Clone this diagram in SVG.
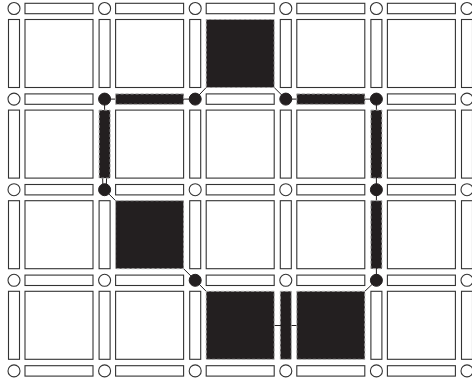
<svg xmlns="http://www.w3.org/2000/svg" width="472" height="382" viewBox="0 0 472 382">
<style>
.o{fill:#fff;stroke:#333;stroke-width:1.1}
.f{fill:#231f20;stroke:#a8a8a8;stroke-width:1;stroke-dasharray:3 2}
.fc{fill:#231f20;stroke:#231f20;stroke-width:1}
.c{stroke:#231f20;stroke-width:1;fill:none}
</style>
<rect width="472" height="382" fill="#fff"/>
<g id="connectors">
<line class="c" x1="206.2" y1="87.5" x2="195.2" y2="99.1"/>
<line class="c" x1="104.6" y1="99.1" x2="195.2" y2="99.1"/>
<line class="c" x1="104.6" y1="99.1" x2="104.6" y2="112"/>
<line class="c" x1="102.6" y1="177" x2="103" y2="189.7"/>
<line class="c" x1="106.6" y1="177" x2="106.2" y2="189.7"/>
<line class="c" x1="104.6" y1="189.7" x2="115.6" y2="200.7"/>
<line class="c" x1="183.6" y1="268.7" x2="195.2" y2="280.3"/>
<line class="c" x1="195.2" y1="280.3" x2="206.2" y2="291.3"/>
<line class="c" x1="274.2" y1="325.5" x2="296.8" y2="325.5"/>
<line class="c" x1="364.8" y1="291.3" x2="376.4" y2="280.3"/>
<line class="c" x1="376.4" y1="99.1" x2="376.4" y2="280.3"/>
<line class="c" x1="285.8" y1="99.1" x2="376.4" y2="99.1"/>
<line class="c" x1="285.8" y1="99.1" x2="274.2" y2="87.5"/>
</g>
<g id="squares">
<g id="sq-0-0"><rect class="o" x="25" y="19.5" width="68" height="68"/></g>
<g id="sq-1-0"><rect class="o" x="115.6" y="19.5" width="68" height="68"/></g>
<g id="sq-2-0"><rect class="f" x="206.2" y="19.5" width="68" height="68"/></g>
<g id="sq-3-0"><rect class="o" x="296.8" y="19.5" width="68" height="68"/></g>
<g id="sq-4-0"><rect class="o" x="387.4" y="19.5" width="68" height="68"/></g>
<g id="sq-0-1"><rect class="o" x="25" y="110.1" width="68" height="68"/></g>
<g id="sq-1-1"><rect class="o" x="115.6" y="110.1" width="68" height="68"/></g>
<g id="sq-2-1"><rect class="o" x="206.2" y="110.1" width="68" height="68"/></g>
<g id="sq-3-1"><rect class="o" x="296.8" y="110.1" width="68" height="68"/></g>
<g id="sq-4-1"><rect class="o" x="387.4" y="110.1" width="68" height="68"/></g>
<g id="sq-0-2"><rect class="o" x="25" y="200.7" width="68" height="68"/></g>
<g id="sq-1-2"><rect class="f" x="115.6" y="200.7" width="68" height="68"/></g>
<g id="sq-2-2"><rect class="o" x="206.2" y="200.7" width="68" height="68"/></g>
<g id="sq-3-2"><rect class="o" x="296.8" y="200.7" width="68" height="68"/></g>
<g id="sq-4-2"><rect class="o" x="387.4" y="200.7" width="68" height="68"/></g>
<g id="sq-0-3"><rect class="o" x="25" y="291.3" width="68" height="68"/></g>
<g id="sq-1-3"><rect class="o" x="115.6" y="291.3" width="68" height="68"/></g>
<g id="sq-2-3"><rect class="f" x="206.2" y="291.3" width="68" height="68"/></g>
<g id="sq-3-3"><rect class="f" x="296.8" y="291.3" width="68" height="68"/></g>
<g id="sq-4-3"><rect class="o" x="387.4" y="291.3" width="68" height="68"/></g>
</g>
<g id="vbars">
<g id="v-0-0"><rect class="o" x="8.5" y="19.5" width="11" height="68"/></g>
<g id="v-1-0"><rect class="o" x="99.1" y="19.5" width="11" height="68"/></g>
<g id="v-2-0"><rect class="o" x="189.7" y="19.5" width="11" height="68"/></g>
<g id="v-3-0"><rect class="o" x="280.3" y="19.5" width="11" height="68"/></g>
<g id="v-4-0"><rect class="o" x="370.9" y="19.5" width="11" height="68"/></g>
<g id="v-5-0"><rect class="o" x="461.5" y="19.5" width="11" height="68"/></g>
<g id="v-0-1"><rect class="o" x="8.5" y="110.1" width="11" height="68"/></g>
<g id="v-1-1"><rect class="f" x="99.1" y="110.1" width="11" height="68"/></g>
<g id="v-2-1"><rect class="o" x="189.7" y="110.1" width="11" height="68"/></g>
<g id="v-3-1"><rect class="o" x="280.3" y="110.1" width="11" height="68"/></g>
<g id="v-4-1"><rect class="f" x="370.9" y="110.1" width="11" height="68"/></g>
<g id="v-5-1"><rect class="o" x="461.5" y="110.1" width="11" height="68"/></g>
<g id="v-0-2"><rect class="o" x="8.5" y="200.7" width="11" height="68"/></g>
<g id="v-1-2"><rect class="o" x="99.1" y="200.7" width="11" height="68"/></g>
<g id="v-2-2"><rect class="o" x="189.7" y="200.7" width="11" height="68"/></g>
<g id="v-3-2"><rect class="o" x="280.3" y="200.7" width="11" height="68"/></g>
<g id="v-4-2"><rect class="f" x="370.9" y="200.7" width="11" height="68"/></g>
<g id="v-5-2"><rect class="o" x="461.5" y="200.7" width="11" height="68"/></g>
<g id="v-0-3"><rect class="o" x="8.5" y="291.3" width="11" height="68"/></g>
<g id="v-1-3"><rect class="o" x="99.1" y="291.3" width="11" height="68"/></g>
<g id="v-2-3"><rect class="o" x="189.7" y="291.3" width="11" height="68"/></g>
<g id="v-3-3"><rect class="f" x="280.3" y="291.3" width="11" height="68"/></g>
<g id="v-4-3"><rect class="o" x="370.9" y="291.3" width="11" height="68"/></g>
<g id="v-5-3"><rect class="o" x="461.5" y="291.3" width="11" height="68"/></g>
</g>
<g id="hbars">
<g id="h-0-0"><rect class="o" x="25" y="3.3" width="68" height="10.4"/></g>
<g id="h-1-0"><rect class="o" x="115.6" y="3.3" width="68" height="10.4"/></g>
<g id="h-2-0"><rect class="o" x="206.2" y="3.3" width="68" height="10.4"/></g>
<g id="h-3-0"><rect class="o" x="296.8" y="3.3" width="68" height="10.4"/></g>
<g id="h-4-0"><rect class="o" x="387.4" y="3.3" width="68" height="10.4"/></g>
<g id="h-0-1"><rect class="o" x="25" y="93.9" width="68" height="10.4"/></g>
<g id="h-1-1"><rect class="f" x="115.6" y="93.9" width="68" height="10.4"/></g>
<g id="h-2-1"><rect class="o" x="206.2" y="93.9" width="68" height="10.4"/></g>
<g id="h-3-1"><rect class="f" x="296.8" y="93.9" width="68" height="10.4"/></g>
<g id="h-4-1"><rect class="o" x="387.4" y="93.9" width="68" height="10.4"/></g>
<g id="h-0-2"><rect class="o" x="25" y="184.5" width="68" height="10.4"/></g>
<g id="h-1-2"><rect class="o" x="115.6" y="184.5" width="68" height="10.4"/></g>
<g id="h-2-2"><rect class="o" x="206.2" y="184.5" width="68" height="10.4"/></g>
<g id="h-3-2"><rect class="o" x="296.8" y="184.5" width="68" height="10.4"/></g>
<g id="h-4-2"><rect class="o" x="387.4" y="184.5" width="68" height="10.4"/></g>
<g id="h-0-3"><rect class="o" x="25" y="275.1" width="68" height="10.4"/></g>
<g id="h-1-3"><rect class="o" x="115.6" y="275.1" width="68" height="10.4"/></g>
<g id="h-2-3"><rect class="o" x="206.2" y="275.1" width="68" height="10.4"/></g>
<g id="h-3-3"><rect class="o" x="296.8" y="275.1" width="68" height="10.4"/></g>
<g id="h-4-3"><rect class="o" x="387.4" y="275.1" width="68" height="10.4"/></g>
<g id="h-0-4"><rect class="o" x="25" y="365.7" width="68" height="10.4"/></g>
<g id="h-1-4"><rect class="o" x="115.6" y="365.7" width="68" height="10.4"/></g>
<g id="h-2-4"><rect class="o" x="206.2" y="365.7" width="68" height="10.4"/></g>
<g id="h-3-4"><rect class="o" x="296.8" y="365.7" width="68" height="10.4"/></g>
<g id="h-4-4"><rect class="o" x="387.4" y="365.7" width="68" height="10.4"/></g>
</g>
<g id="circles">
<g id="o-0-0"><circle class="o" cx="14" cy="8.5" r="6"/></g>
<g id="o-1-0"><circle class="o" cx="104.6" cy="8.5" r="6"/></g>
<g id="o-2-0"><circle class="o" cx="195.2" cy="8.5" r="6"/></g>
<g id="o-3-0"><circle class="o" cx="285.8" cy="8.5" r="6"/></g>
<g id="o-4-0"><circle class="o" cx="376.4" cy="8.5" r="6"/></g>
<g id="o-5-0"><circle class="o" cx="467" cy="8.5" r="6"/></g>
<g id="o-0-1"><circle class="o" cx="14" cy="99.1" r="6"/></g>
<g id="o-1-1"><circle class="fc" cx="104.6" cy="99.1" r="6"/></g>
<g id="o-2-1"><circle class="fc" cx="195.2" cy="99.1" r="6"/></g>
<g id="o-3-1"><circle class="fc" cx="285.8" cy="99.1" r="6"/></g>
<g id="o-4-1"><circle class="fc" cx="376.4" cy="99.1" r="6"/></g>
<g id="o-5-1"><circle class="o" cx="467" cy="99.1" r="6"/></g>
<g id="o-0-2"><circle class="o" cx="14" cy="189.7" r="6"/></g>
<g id="o-1-2"><circle class="fc" cx="104.6" cy="189.7" r="6"/></g>
<g id="o-2-2"><circle class="o" cx="195.2" cy="189.7" r="6"/></g>
<g id="o-3-2"><circle class="o" cx="285.8" cy="189.7" r="6"/></g>
<g id="o-4-2"><circle class="fc" cx="376.4" cy="189.7" r="6"/></g>
<g id="o-5-2"><circle class="o" cx="467" cy="189.7" r="6"/></g>
<g id="o-0-3"><circle class="o" cx="14" cy="280.3" r="6"/></g>
<g id="o-1-3"><circle class="o" cx="104.6" cy="280.3" r="6"/></g>
<g id="o-2-3"><circle class="fc" cx="195.2" cy="280.3" r="6"/></g>
<g id="o-3-3"><circle class="o" cx="285.8" cy="280.3" r="6"/></g>
<g id="o-4-3"><circle class="fc" cx="376.4" cy="280.3" r="6"/></g>
<g id="o-5-3"><circle class="o" cx="467" cy="280.3" r="6"/></g>
<g id="o-0-4"><circle class="o" cx="14" cy="370.9" r="6"/></g>
<g id="o-1-4"><circle class="o" cx="104.6" cy="370.9" r="6"/></g>
<g id="o-2-4"><circle class="o" cx="195.2" cy="370.9" r="6"/></g>
<g id="o-3-4"><circle class="o" cx="285.8" cy="370.9" r="6"/></g>
<g id="o-4-4"><circle class="o" cx="376.4" cy="370.9" r="6"/></g>
<g id="o-5-4"><circle class="o" cx="467" cy="370.9" r="6"/></g>
</g>
</svg>
